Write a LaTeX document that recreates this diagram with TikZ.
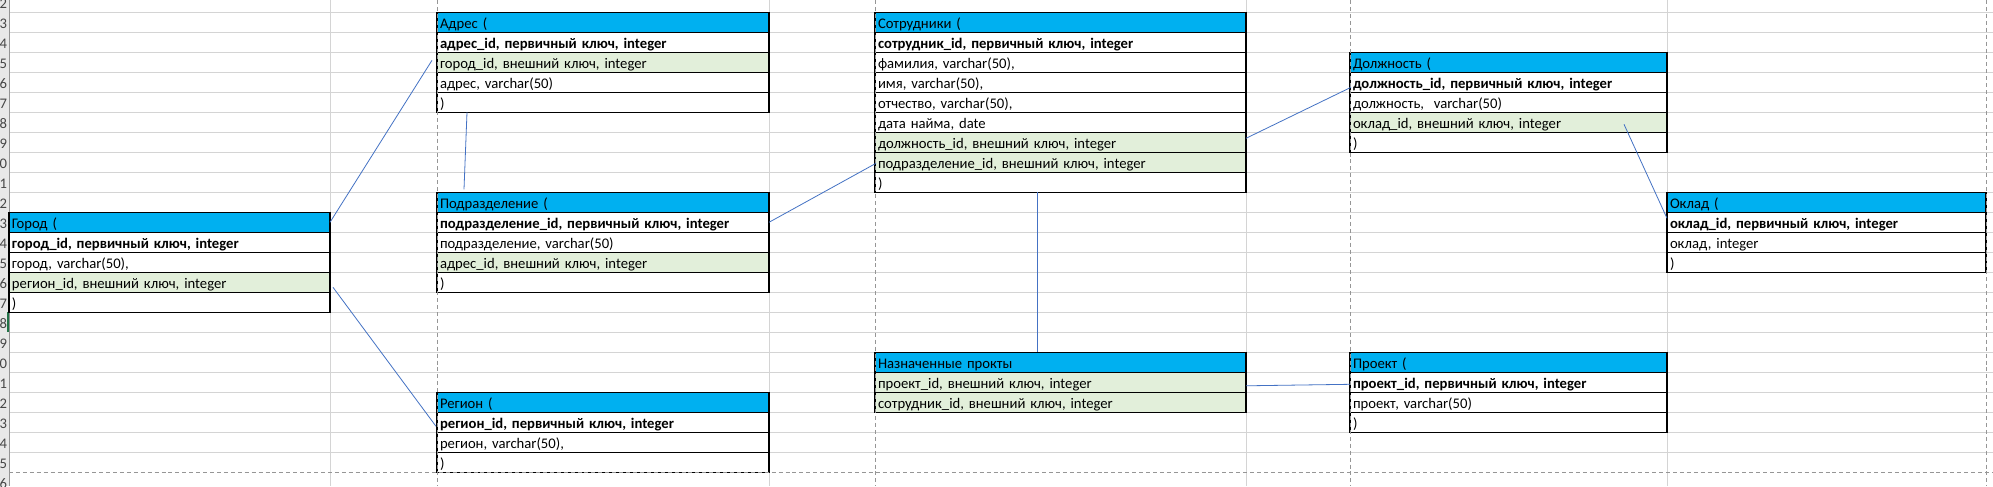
\documentclass[tikz,border=0pt]{standalone}
\usepackage{fontspec}
\setmainfont{Carlito}
\usepackage{tikz}
\usetikzlibrary{positioning}
\definecolor{hdrblue}{RGB}{0,176,240}
\definecolor{fkgreen}{RGB}{226,239,218}
\definecolor{gridgray}{RGB}{212,212,212}
\definecolor{breakgray}{RGB}{150,150,150}
\definecolor{linkblue}{RGB}{68,114,196}
\definecolor{rowhdr}{RGB}{232,232,232}
\definecolor{rownumc}{RGB}{70,70,70}
\definecolor{selgreen}{RGB}{33,115,70}
\tikzset{
  cell/.style={rectangle, draw=black, fill=white, line width=0.8pt,
    inner xsep=2.25pt, inner ysep=0pt, outer sep=0pt,
    text height=12pt, text depth=3pt, align=left,
    font=\fontsize{11pt}{13pt}\selectfont},
  hdr/.style={cell, fill=hdrblue},
  pkrow/.style={cell, font=\fontsize{11pt}{13pt}\selectfont\bfseries},
  fkrow/.style={cell, fill=fkgreen},
  wgorod/.style={text width=236.25pt},
  wadres/.style={text width=244.5pt},
  wsotr/.style={text width=273.75pt},
  wdolzh/.style={text width=233.25pt},
  woklad/.style={text width=234.75pt},
  gridline/.style={draw=gridgray, line width=0.75pt},
  pagebreak/.style={draw=breakgray, line width=0.75pt, dash pattern=on 3pt off 2.2pt},
  link/.style={draw=linkblue, line width=0.6pt},
  rownum/.style={anchor=base east, inner sep=0pt, text=rownumc,
    font=\fontsize{11pt}{13pt}\selectfont}
}

\begin{document}
\begin{tikzpicture}[x=0.75pt, y=-0.75pt, node distance=0pt]
  \useasboundingbox (0,0) rectangle (1993,486);
  \clip (0,0) rectangle (1993,486);
  \fill[white] (0,0) rectangle (1993,486);

  % Sheet grid
  \foreach \k in {0,...,22}
    \draw[gridline] (0,{12.3+20*\k}) -- (1993,{12.3+20*\k});
  \foreach \gx in {330,769,1246,1667}
    \draw[gridline] (\gx,0) -- (\gx,486);

  % Row headers
  \fill[rowhdr] (0,0) rectangle (9,486);
  \begin{scope}
    \clip (0,0) rectangle (9,486);
    \foreach \r in {2,...,26}
      \node[rownum] (row\r) at (7.3,{12.3+20*(\r-3)+16}) {\r};
  \end{scope}
  \draw[draw=gridgray!70!black, line width=0.75pt] (9,0) -- (9,486);
  \draw[selgreen, line width=1.5pt] (8.2,312.3) -- (8.2,332.3);

  % Город
  \node[hdr, wgorod, anchor=north west] (gorod1) at (9,212.3) {Город (};
  \node[pkrow, wgorod, below=of gorod1] (gorod2) {город\_id, первичный ключ, integer};
  \node[cell, wgorod, below=of gorod2] (gorod3) {город, varchar(50),};
  \node[fkrow, wgorod, below=of gorod3] (gorod4) {регион\_id, внешний ключ, integer};
  \node[cell, wgorod, below=of gorod4] (gorod5) {)};

  % Адрес
  \node[hdr, wadres, anchor=north west] (adres1) at (437,12.3) {Адрес (};
  \node[pkrow, wadres, below=of adres1] (adres2) {адрес\_id, первичный ключ, integer};
  \node[fkrow, wadres, below=of adres2] (adres3) {город\_id, внешний ключ, integer};
  \node[cell, wadres, below=of adres3] (adres4) {адрес, varchar(50)};
  \node[cell, wadres, below=of adres4] (adres5) {)};

  % Подразделение
  \node[hdr, wadres, anchor=north west] (podr1) at (437,192.3) {Подразделение (};
  \node[pkrow, wadres, below=of podr1] (podr2) {подразделение\_id, первичный ключ, integer};
  \node[cell, wadres, below=of podr2] (podr3) {подразделение, varchar(50)};
  \node[fkrow, wadres, below=of podr3] (podr4) {адрес\_id, внешний ключ, integer};
  \node[cell, wadres, below=of podr4] (podr5) {)};

  % Регион
  \node[hdr, wadres, anchor=north west] (region1) at (437,392.3) {Регион (};
  \node[pkrow, wadres, below=of region1] (region2) {регион\_id, первичный ключ, integer};
  \node[cell, wadres, below=of region2] (region3) {регион, varchar(50),};
  \node[cell, wadres, below=of region3] (region4) {)};

  % Сотрудники
  \node[hdr, wsotr, anchor=north west] (sotr1) at (875,12.3) {Сотрудники (};
  \node[pkrow, wsotr, below=of sotr1] (sotr2) {сотрудник\_id, первичный ключ, integer};
  \node[cell, wsotr, below=of sotr2] (sotr3) {фамилия, varchar(50),};
  \node[cell, wsotr, below=of sotr3] (sotr4) {имя, varchar(50),};
  \node[cell, wsotr, below=of sotr4] (sotr5) {отчество, varchar(50),};
  \node[cell, wsotr, below=of sotr5] (sotr6) {дата найма, date};
  \node[fkrow, wsotr, below=of sotr6] (sotr7) {должность\_id, внешний ключ, integer};
  \node[fkrow, wsotr, below=of sotr7] (sotr8) {подразделение\_id, внешний ключ, integer};
  \node[cell, wsotr, below=of sotr8] (sotr9) {)};

  % Назначенные прокты
  \node[hdr, wsotr, anchor=north west] (nazn1) at (875,352.3) {Назначенные прокты};
  \node[fkrow, wsotr, below=of nazn1] (nazn2) {проект\_id, внешний ключ, integer};
  \node[fkrow, wsotr, below=of nazn2] (nazn3) {сотрудник\_id, внешний ключ, integer};

  % Должность
  \node[hdr, wdolzh, anchor=north west] (dolzh1) at (1350,52.3) {Должность (};
  \node[pkrow, wdolzh, below=of dolzh1] (dolzh2) {должность\_id, первичный ключ, integer};
  \node[cell, wdolzh, below=of dolzh2] (dolzh3) {должность,\ \ varchar(50)};
  \node[fkrow, wdolzh, below=of dolzh3] (dolzh4) {оклад\_id, внешний ключ, integer};
  \node[cell, wdolzh, below=of dolzh4] (dolzh5) {)};

  % Оклад
  \node[hdr, woklad, anchor=north west] (oklad1) at (1667,192.3) {Оклад (};
  \node[pkrow, woklad, below=of oklad1] (oklad2) {оклад\_id, первичный ключ, integer};
  \node[cell, woklad, below=of oklad2] (oklad3) {оклад, integer};
  \node[cell, woklad, below=of oklad3] (oklad4) {)};

  % Проект
  \node[hdr, wdolzh, anchor=north west] (proekt1) at (1350,352.3) {Проект (};
  \node[pkrow, wdolzh, below=of proekt1] (proekt2) {проект\_id, первичный ключ, integer};
  \node[cell, wdolzh, below=of proekt2] (proekt3) {проект, varchar(50)};
  \node[cell, wdolzh, below=of proekt3] (proekt4) {)};

  % Page breaks
  \foreach \px in {437,875,1350,1986}
    \draw[pagebreak] (\px,0) -- (\px,486);
  \draw[pagebreak] (9,472.3) -- (1993,472.3);

  % Links
  \draw[link] (gorod1.east) -- ([shift={(-5,-2)}]adres3.west);
  \draw[link] ([shift={(3,5)}]gorod4.east) -- ([shift={(-1,4)}]region2.west);
  \draw[link] ([shift={(30,0)}]adres5.south west) -- ([shift={(27,-3)}]podr1.north west);
  \draw[link] (podr2.east) -- ([shift={(1,1)}]sotr8.west);
  \draw[link] ([shift={(0,-4)}]sotr7.east) -- ([shift={(1,5)}]dolzh2.west);
  \draw[link] ([shift={(162,0)}]sotr9.south west) -- ([shift={(162,0)}]nazn1.north west);
  \draw[link] ([shift={(0,3.5)}]nazn2.east) -- ([shift={(0,2)}]proekt2.west);
  \draw[link] ([shift={(-43,2)}]dolzh4.east) -- ([shift={(0,-4)}]oklad2.west);
\end{tikzpicture}
\end{document}
